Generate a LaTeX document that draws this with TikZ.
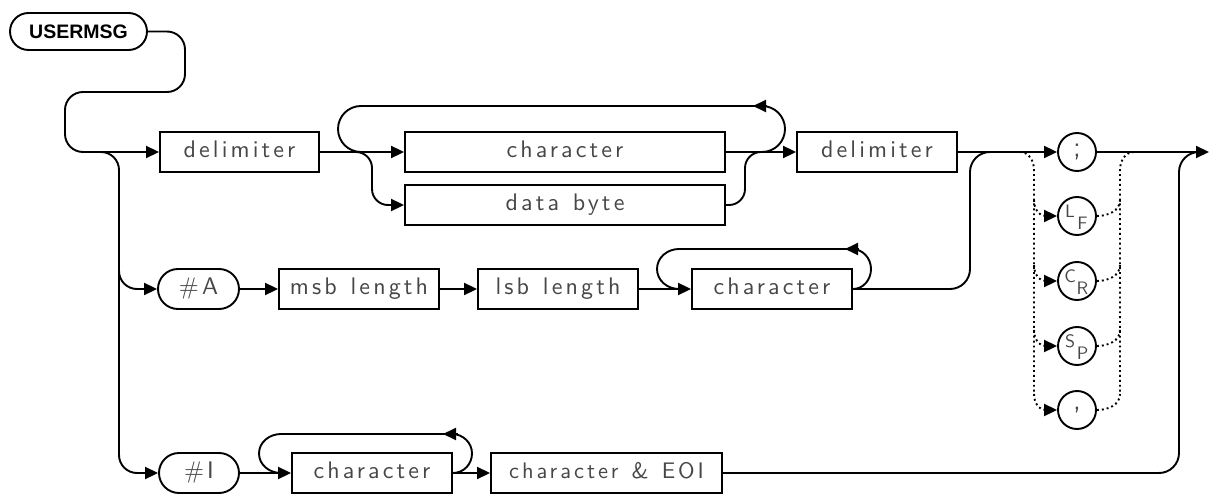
\documentclass[tikz,border=0pt]{standalone}
\usepackage{fontspec}
\newfontfamily\hpfont[LetterSpace=13,WordSpace=1.25]{lmsans10-regular.otf}
\newfontfamily\titlefont{Liberation Sans}
\usetikzlibrary{arrows.meta,shapes.misc,calc}
\tikzset{
  ln/.style={line width=1.9pt},
  box/.style={draw, line width=1.9pt, minimum height=40pt, inner sep=0pt,
    text height=16pt, text depth=5pt,
    font=\hpfont\fontsize{24}{24}\selectfont, text=black!72},
  rbox/.style={box, rounded rectangle},
  circ/.style={draw, circle, line width=1.9pt, minimum size=38pt, inner sep=0pt,
    font=\hpfont\fontsize{28}{28}\selectfont, text=black!72},
  sub/.style={inner sep=0pt, font=\hpfont\fontsize{18}{18}\selectfont, text=black!72},
  arr/.style={-{Triangle[length=13pt,width=12pt]}},
  dotl/.style={line width=1.9pt, dash pattern=on 1.9pt off 3pt},
}
\begin{document}
\begin{tikzpicture}[x=1pt,y=-1pt]
\useasboundingbox (0,0) rectangle (1209,494);

% ---- nodes
\node[draw, rounded rectangle, line width=1.9pt, minimum width=137pt, minimum height=37pt, inner sep=0pt,
      font=\titlefont\bfseries\fontsize{19.5}{19.5}\selectfont] (title) at (78.5,31.5) {USERMSG};

% row 1
\node[box, minimum width=159pt] (d1) at (239.5,152) {delimiter};
\node[box, minimum width=320pt] (c1) at (565,152) {character};
\node[box, minimum width=320pt] (db) at (565,205) {data byte};
\node[box, minimum width=160pt] (d2) at (877,152) {delimiter};
\node[circ] (semi) at (1077,152) {;};
\node[circ] (lf) at (1077,216) {};
\node[circ] (cr) at (1077,281) {};
\node[circ] (sp) at (1077,346) {};
\node[circ] (comma) at (1077,410) {,};
\node[sub] at ($(lf)+(-7,-5)$) {L};
\node[sub] at ($(lf)+(5.5,7)$) {F};
\node[sub] at ($(cr)+(-7,-5)$) {C};
\node[sub] at ($(cr)+(5.5,7)$) {R};
\node[sub] at ($(sp)+(-7,-5)$) {S};
\node[sub] at ($(sp)+(5.5,7)$) {P};

% row 2
\node[rbox, minimum width=81pt] (hA) at (198.5,289) {\#A};
\node[box, minimum width=160pt] (msb) at (359,289) {msb length};
\node[box, minimum width=160pt] (lsb) at (558,289) {lsb length};
\node[box, minimum width=160pt] (c2) at (772,289) {character};

% row 3
\node[rbox, minimum width=80pt] (hI) at (199,473) {\#I};
\node[box, minimum width=160pt] (c3) at (372,473) {character};
\node[box, minimum width=231pt, font=\hpfont\fontsize{22.5}{22.5}\selectfont] (ceoi) at (606.5,473) {character \& EOI};

% ---- coordinates
\coordinate (exit) at (1209,152);
\coordinate (br) at (101,152);

% ---- entry
\draw[ln, arr, rounded corners=18pt] (title.east) -- (185,31.5) -- (185,92) -- (65,92) -- (65,152) -- (d1.west);
\draw[ln, arr, rounded corners=18pt] (br) -- (119,152) -- (119,473) -- (hI.west);
\draw[ln, arr, rounded corners=18pt] (119,250) -- (119,289) -- (hA.west);

% ---- row 1
\draw[ln, arr] (d1.east) -- (c1.west);
\draw[ln, arr] (c1.east) -- (d2.west);
\draw[ln] (762,152) to[out=0,in=-90] (785,129) to[out=90,in=0] (762,106);
\draw[ln, arr] (767,106) -- (753,106);
\draw[ln] (755,106) -- (361,106) to[out=180,in=90] (338,129) to[out=-90,in=180] (361,152);
\draw[ln, arr, rounded corners=16pt] (352,152) -- (372,152) -- (372,205) -- (db.west);
\draw[ln, rounded corners=16pt] (db.east) -- (745,205) -- (745,152) -- (765,152);
\draw[ln, arr] (d2.east) -- (semi.west);
\draw[ln, arr] (semi.east) -- (exit);

% dotted alternatives
\draw[dotl] (1020,152) to[out=0,in=90] (1034,170) -- (1034,394);
\draw[dotl] (1134,152) to[out=180,in=90] (1120,170) -- (1120,394);
\foreach \c/\y in {lf/216, cr/281, sp/346, comma/410}{
  \draw[dotl] (1034,\y-16) to[out=-90,in=180] (1046,\y);
  \draw[ln, arr] (1044,\y) -- (\c.west);
  \draw[dotl] (\c.east) to[out=0,in=-90] (1120,\y-16);
}

% ---- row 2
\draw[ln, arr] (hA.east) -- (msb.west);
\draw[ln, arr] (msb.east) -- (lsb.west);
\draw[ln, arr] (lsb.east) -- (c2.west);
\draw[ln] (c2.east) to[out=0,in=-90] (871,269) to[out=90,in=0] (852,249);
\draw[ln, arr] (858,249) -- (845,249);
\draw[ln] (847,249) -- (679,249) to[out=180,in=90] (657,269) to[out=-90,in=180] (679,289);
\draw[ln, rounded corners=20pt] (c2.east) -- (970,289) -- (970,152) -- (992,152);

% ---- row 3
\draw[ln, arr] (hI.east) -- (c3.west);
\draw[ln, arr] (c3.east) -- (ceoi.west);
\draw[ln] (c3.east) to[out=0,in=-90] (472,453.5) to[out=90,in=0] (452,434);
\draw[ln, arr] (458,434) -- (443,434);
\draw[ln] (445,434) -- (281,434) to[out=180,in=90] (259,453.5) to[out=-90,in=180] (281,473);
\draw[ln, rounded corners=20pt] (ceoi.east) -- (1179,473) -- (1179,152) -- (1201,152);
\end{tikzpicture}
\end{document}
